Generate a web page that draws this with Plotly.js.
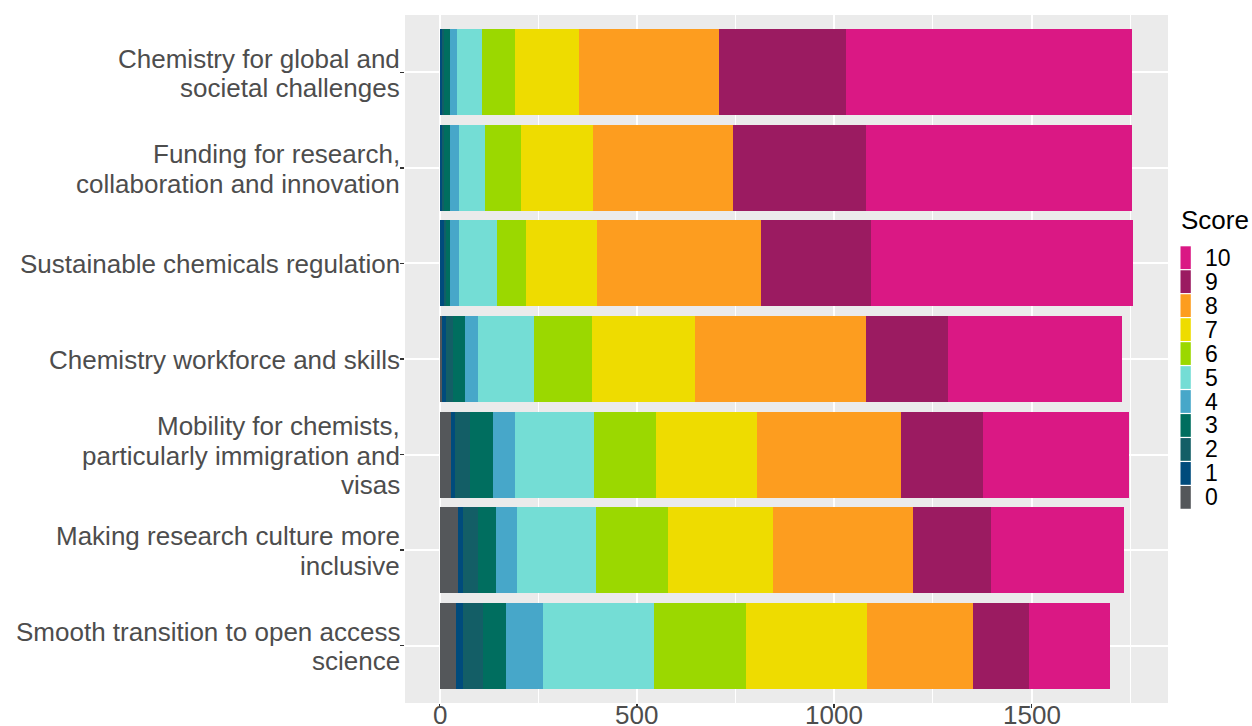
<!DOCTYPE html>
<html>
<head>
<meta charset="utf-8">
<script src="https://cdn.plot.ly/plotly-3.0.1.min.js"></script>
<style>html,body{margin:0;padding:0;background:#fff}#chart{width:1252px;height:726px}</style>
</head>
<body>
<div id="chart"></div>
<script>
const categories = [
  "Chemistry for global and<br>societal challenges",
  "Funding for research,<br>collaboration and innovation",
  "Sustainable chemicals regulation",
  "Chemistry workforce and skills",
  "Mobility for chemists,<br>particularly immigration and<br>visas",
  "Making research culture more<br>inclusive",
  "Smooth transition to open access<br>science"
];
const scoreLabels = ["0","1","2","3","4","5","6","7","8","9","10"];
const scoreColors = ["#54575a","#004b7c","#135e66","#006e5f","#47a7c9","#74ddd5","#9bd800","#eedc00","#fd9d1f","#9b1b61","#da1884"];
const xTickValues = [0, 500, 1000, 1500];
const xTickLabels = ["0", "500", "1000", "1500"];
const xMinorValues = [250, 750, 1250, 1750];

const score0  = [2, 2, 2, 5, 29, 46, 42];
const score1  = [5, 4, 8, 10, 11, 13, 18];
const score2  = [5, 6, 5, 18, 36, 39, 51];
const score3  = [15, 15, 10, 31, 59, 45, 56];
const score4  = [17, 22, 24, 34, 57, 53, 95];
const score5  = [63, 67, 95, 142, 198, 201, 282];
const score6  = [85, 91, 76, 146, 159, 182, 232];
const score7  = [162, 181, 179, 261, 255, 266, 307];
const score8  = [354, 356, 415, 433, 365, 354, 268];
const score9  = [322, 336, 279, 208, 208, 198, 142];
const score10 = [724, 674, 665, 441, 369, 337, 207];

const series = [score0, score1, score2, score3, score4, score5, score6, score7, score8, score9, score10];

const traces = series.map((vals, i) => ({
  type: "bar",
  orientation: "h",
  name: scoreLabels[i],
  x: vals,
  y: categories,
  marker: {color: scoreColors[i], line: {width: 0}},
  showlegend: false,
  hoverinfo: "x+name"
}));

const totals = categories.map((c, j) => series.reduce((s, arr) => s + arr[j], 0));
const maxTotal = Math.max(...totals);

// layout geometry (pixels)
const W = 1252, H = 726;
const mL = 405, mR = 84, mT = 15, mB = 23;
const pw = W - mL - mR, ph = H - mT - mB;
const px2x = px => (px - mL) / pw;
const py2y = py => (H - mB - py) / ph;

const axisText = {size: 26, color: "#4d4d4d"};
const shapes = [];
const annotations = [];

// y-axis category labels (ggplot line spacing)
const lineGap = 29.5;
categories.forEach(cat => {
  const lines = cat.split("<br>");
  lines.forEach((ln, k) => {
    annotations.push({
      xref: "paper", yref: "y", x: px2x(401.5), y: cat,
      xanchor: "right", yanchor: "middle", showarrow: false,
      yshift: -(k - (lines.length - 1) / 2) * lineGap - 1,
      text: ln, font: axisText
    });
  });
});

// x-axis tick labels
xTickValues.forEach((v, i) => {
  annotations.push({
    xref: "x", yref: "paper", x: v, y: py2y(715),
    xanchor: "center", yanchor: "middle", showarrow: false,
    text: xTickLabels[i], font: axisText
  });
});

// custom legend (ggplot style)
annotations.push({
  xref: "paper", yref: "paper", x: px2x(1179), y: py2y(220),
  xanchor: "left", yanchor: "middle", showarrow: false,
  text: "Score", font: {size: 26, color: "#000000"}
});
const keyTop = 245.7, keyH = 23.97;
for (let r = 0; r < scoreLabels.length; r++) {
  const idx = scoreLabels.length - 1 - r;
  const y0 = keyTop + r * keyH, y1 = y0 + keyH;
  shapes.push({
    type: "rect", xref: "paper", yref: "paper",
    x0: px2x(1180.5), x1: px2x(1190.8), y0: py2y(y1 - 0.6), y1: py2y(y0 + 0.6),
    fillcolor: scoreColors[idx], line: {width: 0}
  });
  annotations.push({
    xref: "paper", yref: "paper", x: px2x(1203), y: py2y((y0 + y1) / 2),
    xanchor: "left", yanchor: "middle", showarrow: false,
    text: scoreLabels[idx], font: {size: 23, color: "#000000"}
  });
}

const layout = {
  width: W, height: H,
  margin: {l: mL, r: mR, t: mT, b: mB, pad: 0},
  paper_bgcolor: "#ffffff",
  plot_bgcolor: "#ebebeb",
  barmode: "stack",
  bargap: 0.1,
  font: {family: "Liberation Sans, Arial, sans-serif", size: 26, color: "#4d4d4d"},
  showlegend: false,
  xaxis: {
    range: [-0.05 * maxTotal, 1.05 * maxTotal],
    tickvals: xTickValues,
    ticktext: xTickLabels,
    showticklabels: false,
    showgrid: true, gridcolor: "#ffffff", gridwidth: 2,
    minor: {tickvals: xMinorValues, showgrid: true, gridcolor: "#ffffff", gridwidth: 1, ticks: ""},
    zeroline: false, showline: false,
    ticks: "outside", ticklen: 4, tickwidth: 1.5, tickcolor: "#333333",
    fixedrange: true
  },
  yaxis: {
    type: "category",
    categoryorder: "array",
    categoryarray: categories,
    range: [categories.length - 0.4, -0.6],
    showticklabels: false,
    showgrid: true, gridcolor: "#ffffff", gridwidth: 2,
    zeroline: false, showline: false,
    ticks: "outside", ticklen: 4, tickwidth: 1.5, tickcolor: "#333333",
    fixedrange: true
  },
  shapes: shapes,
  annotations: annotations
};

Plotly.newPlot("chart", traces, layout, {displayModeBar: false, staticPlot: true});
</script>
</body>
</html>
